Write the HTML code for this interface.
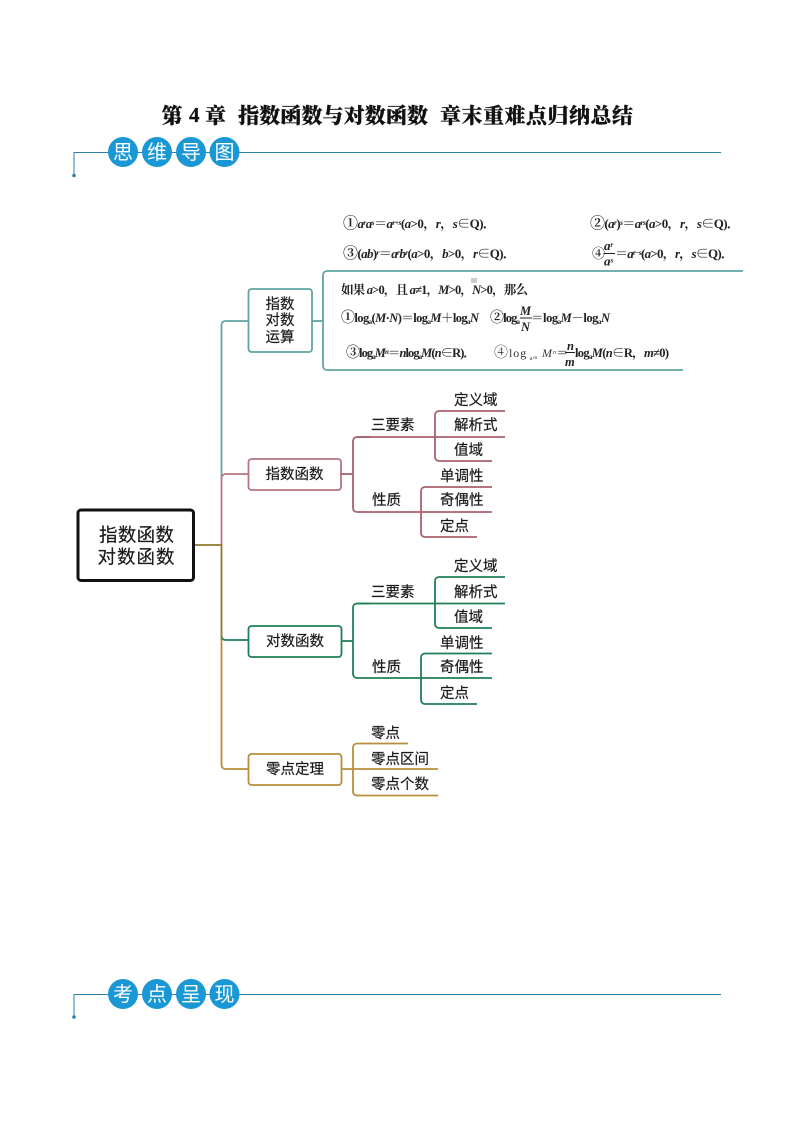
<!DOCTYPE html>
<html lang="zh"><head><meta charset="utf-8"><style>
html,body{margin:0;padding:0;background:#fff}
svg{display:block}
text{font-family:"Liberation Serif","Noto Serif CJK SC",serif}
.s{font-family:"Liberation Sans","Noto Sans CJK SC",sans-serif;fill:#1a1a1a;dominant-baseline:central;stroke:#1a1a1a;stroke-width:.2px}
.l{font-size:14.500px}
.b{font-size:14.500px;text-anchor:middle}
.h{font-family:"Liberation Sans","Noto Sans CJK SC",sans-serif;font-size:20px;fill:#fff;text-anchor:middle;dominant-baseline:central}
.t{font-size:21px;font-weight:900;fill:#111;stroke:#111;stroke-width:.25px}
.f{font-size:13px;font-weight:bold;fill:#222}
.f2{font-size:12.500px;font-weight:bold;fill:#222}
.i{font-style:italic}
.p{fill:none;stroke-width:1.8}
</style></head><body>
<svg width="794" height="1123" viewBox="0 0 794 1123" xmlns="http://www.w3.org/2000/svg">
<rect width="794" height="1123" fill="#fff"/>
<text class="t" x="161.500" y="123">第</text><text class="t" x="189" y="122">4</text><text class="t" x="205" y="123">章</text>
<text class="t" x="238" y="123" textLength="190">指数函数与对数函数</text>
<text class="t" x="440" y="123" textLength="193">章末重难点归纳总结</text>

<!-- header 1 -->
<path d="M74 176V152.500H721" fill="none" stroke="#2b80ad" stroke-width="1"/><circle cx="74" cy="175.500" r="1.800" fill="#2b80ad"/>
<g fill="#1a98d5"><circle cx="123" cy="152" r="15"/><circle cx="157" cy="152" r="15"/><circle cx="191" cy="152" r="15"/><circle cx="224.500" cy="152" r="15"/></g>
<text class="h" x="123" y="153">思</text><text class="h" x="157" y="153">维</text><text class="h" x="191" y="153">导</text><text class="h" x="224.500" y="153">图</text>

<!-- header 2 -->
<path d="M74 1017V994.500H721" fill="none" stroke="#2b80ad" stroke-width="1"/><circle cx="74" cy="1017" r="1.800" fill="#2b80ad"/>
<g fill="#1a98d5"><circle cx="123" cy="994" r="15"/><circle cx="157" cy="994" r="15"/><circle cx="191" cy="994" r="15"/><circle cx="224.500" cy="994" r="15"/></g>
<text class="h" x="123" y="995">考</text><text class="h" x="157" y="995">点</text><text class="h" x="191" y="995">呈</text><text class="h" x="224.500" y="995">现</text>

<!-- trunk -->
<path class="p" stroke="#5fa5a2" d="M221.500 478V325a4 4 0 0 1 4-4H248"/>
<path class="p" stroke="#b5757f" d="M221.500 545V478a4 4 0 0 1 4-4H248"/>
<path class="p" stroke="#1f8055" d="M221.500 636a4 4 0 0 0 4 4H248"/>
<path class="p" stroke="#b98d3c" d="M221.500 640V765a4 4 0 0 0 4 4H248"/>
<path class="p" stroke="#8f7a2c" d="M194 545H221.500V640"/>

<!-- main box -->
<rect x="78" y="510" width="115.500" height="70.500" rx="3" fill="#fff" stroke="#111" stroke-width="3"/>
<text class="s" x="99" y="535" font-size="18.500" textLength="75">指数函数</text>
<text class="s" x="97.500" y="557" font-size="18.500" textLength="77">对数函数</text>

<!-- branch 1 -->
<rect x="248.500" y="289" width="63.500" height="63" rx="3" fill="#fff" stroke="#5fa5a2" stroke-width="1.800"/>
<text class="s b" x="280" y="305">指数</text><text class="s b" x="280" y="321">对数</text><text class="s b" x="280" y="338">运算</text>
<path class="p" stroke="#5fa5a2" d="M312 321H323"/>
<path class="p" stroke="#5fa5a2" d="M743 271H327a4 4 0 0 0-4 4V366a4 4 0 0 0 4 4H683"/>

<!-- formulas -->
<text class="f" x="343" y="228" textLength="153"><tspan font-size="15">①</tspan><tspan class="i">a</tspan><tspan class="i" font-size="7.500" dy="-3">r</tspan><tspan class="i" dy="3">a</tspan><tspan class="i" font-size="7.500" dy="-3">s</tspan><tspan dy="3">＝</tspan><tspan class="i">a</tspan><tspan class="i" font-size="7.500" dy="-3">r+s</tspan><tspan dy="3">(</tspan><tspan class="i">a</tspan>&gt;0，<tspan class="i">r</tspan>，<tspan class="i">s</tspan>∈Q)．</text>
<text class="f" x="590" y="228" textLength="150"><tspan font-size="15">②</tspan>(<tspan class="i">a</tspan><tspan class="i" font-size="7.500" dy="-3">r</tspan><tspan dy="3">)</tspan><tspan class="i" font-size="7.500" dy="-3">s</tspan><tspan dy="3">＝</tspan><tspan class="i">a</tspan><tspan class="i" font-size="7.500" dy="-3">rs</tspan><tspan dy="3">(</tspan><tspan class="i">a</tspan>&gt;0，<tspan class="i">r</tspan>，<tspan class="i">s</tspan>∈Q)．</text>
<text class="f" x="343" y="258" textLength="173"><tspan font-size="15">③</tspan>(<tspan class="i">ab</tspan>)<tspan class="i" font-size="7.500" dy="-3">r</tspan><tspan dy="3">＝</tspan><tspan class="i">a</tspan><tspan class="i" font-size="7.500" dy="-3">r</tspan><tspan class="i" dy="3">b</tspan><tspan class="i" font-size="7.500" dy="-3">r</tspan><tspan dy="3">(</tspan><tspan class="i">a</tspan>&gt;0，<tspan class="i">b</tspan>&gt;0，<tspan class="i">r</tspan>∈Q)．</text>
<text class="f" x="592" y="258" font-size="15">④</text>
<text class="f i" x="604" y="250" font-size="11">a<tspan font-size="7" dy="-3">r</tspan></text>
<path d="M603.500 253.500H615" stroke="#222" stroke-width="1"/>
<text class="f i" x="604" y="265.500" font-size="11">a<tspan font-size="7" dy="-3">s</tspan></text>
<text class="f" x="615" y="258" textLength="119">＝<tspan class="i">a</tspan><tspan class="i" font-size="7.500" dy="-3">r−s</tspan><tspan dy="3">(</tspan><tspan class="i">a</tspan>&gt;0，<tspan class="i">r</tspan>，<tspan class="i">s</tspan>∈Q)．</text>

<rect x="471" y="278" width="6" height="5" fill="#ccc"/>
<text class="f2" x="341" y="294" textLength="187">如果 <tspan class="i">a</tspan>&gt;0，且 <tspan class="i">a</tspan>≠1，<tspan class="i">M</tspan>&gt;0，<tspan class="i">N</tspan>&gt;0，那么</text>
<text class="f2" x="341" y="322" textLength="138"><tspan font-size="14">①</tspan>log<tspan font-size="7" dy="2">a</tspan><tspan dy="-2">(</tspan><tspan class="i">M</tspan>·<tspan class="i">N</tspan>)＝log<tspan font-size="7" dy="2">a</tspan><tspan class="i" dy="-2">M</tspan>＋log<tspan font-size="7" dy="2">a</tspan><tspan class="i" dy="-2">N</tspan></text>
<text class="f2" x="490" y="322" textLength="30"><tspan font-size="14">②</tspan>log<tspan font-size="7" dy="2">a</tspan></text>
<text class="f2 i" x="520" y="315" font-size="13">M</text><path d="M520 318H532" stroke="#222" stroke-width="1"/><text class="f2 i" x="521" y="331" font-size="13">N</text>
<text class="f2" x="531" y="322" textLength="79">＝log<tspan font-size="7" dy="2">a</tspan><tspan class="i" dy="-2">M</tspan>－log<tspan font-size="7" dy="2">a</tspan><tspan class="i" dy="-2">N</tspan></text>
<text class="f2" x="346" y="357" textLength="130"><tspan font-size="14">③</tspan>log<tspan font-size="7" dy="2">a</tspan><tspan class="i" dy="-2">M</tspan><tspan class="i" font-size="7" dy="-3">n</tspan><tspan dy="3">＝</tspan><tspan class="i">n</tspan>log<tspan font-size="7" dy="2">a</tspan><tspan class="i" dy="-2">M</tspan>(<tspan class="i">n</tspan>∈R)．</text>
<text x="494" y="357" font-size="12" fill="#333" textLength="62"><tspan font-size="14">④</tspan>log<tspan font-size="6" dy="3"> a</tspan><tspan font-size="5" dy="-1">m</tspan><tspan class="i" dy="-2"> M</tspan><tspan class="i" font-size="6" dy="-3">n</tspan></text>
<text class="f2" x="556" y="357" textLength="12">＝</text>
<text class="f2 i" x="567" y="350">n</text><path d="M565 352.500H575" stroke="#222" stroke-width="1"/><text class="f2 i" x="565" y="366">m</text>
<text class="f2" x="575" y="357" textLength="94">log<tspan font-size="7" dy="2">a</tspan><tspan class="i" dy="-2">M</tspan>(<tspan class="i">n</tspan>∈R，<tspan class="i">m</tspan>≠0)</text>

<!-- branch 2 -->
<rect x="248.500" y="459" width="92.500" height="31" rx="3" fill="#fff" stroke="#b5757f" stroke-width="1.800"/>
<text class="s b" x="294.500" y="475">指数函数</text>
<g stroke="#a9606c">
<path class="p" d="M341 474H353"/>
<path class="p" d="M370 437H357a4 4 0 0 0-4 4V508a4 4 0 0 0 4 4H492"/>
<path class="p" d="M357 437H505"/>
<path class="p" d="M505 411H439a4 4 0 0 0-4 4V457a4 4 0 0 0 4 4H492"/>
<path class="p" d="M492 487H425a4 4 0 0 0-4 4V533a4 4 0 0 0 4 4H477"/>
</g>
<text class="s l" x="371" y="426">三要素</text><text class="s l" x="372" y="501">性质</text>
<text class="s l" x="454" y="401">定义域</text><text class="s l" x="454" y="426">解析式</text><text class="s l" x="454" y="451">值域</text>
<text class="s l" x="440" y="477">单调性</text><text class="s l" x="440" y="501">奇偶性</text><text class="s l" x="440" y="527">定点</text>

<!-- branch 3 -->
<rect x="248.500" y="626" width="93" height="31" rx="3" fill="#fff" stroke="#1f8055" stroke-width="1.800"/>
<text class="s b" x="295" y="642">对数函数</text>
<g stroke="#1f8055">
<path class="p" d="M341 641H353"/>
<path class="p" d="M370 603.500H357a4 4 0 0 0-4 4V674a4 4 0 0 0 4 4H492"/>
<path class="p" d="M357 603.500H505"/>
<path class="p" d="M505 577H439a4 4 0 0 0-4 4V624a4 4 0 0 0 4 4H492"/>
<path class="p" d="M492 653.500H425a4 4 0 0 0-4 4V700a4 4 0 0 0 4 4H477"/>
</g>
<text class="s l" x="371" y="593">三要素</text><text class="s l" x="372" y="668">性质</text>
<text class="s l" x="454" y="567">定义域</text><text class="s l" x="454" y="593">解析式</text><text class="s l" x="454" y="618">值域</text>
<text class="s l" x="440" y="644">单调性</text><text class="s l" x="440" y="668">奇偶性</text><text class="s l" x="440" y="694">定点</text>

<!-- branch 4 -->
<rect x="248.500" y="754" width="93" height="31" rx="3" fill="#fff" stroke="#b98d3c" stroke-width="1.800"/>
<text class="s b" x="295" y="770">零点定理</text>
<g stroke="#b98d3c">
<path class="p" d="M341 769H438"/>
<path class="p" d="M408 743.500H357a4 4 0 0 0-4 4V791a4 4 0 0 0 4 4.500H438"/>
</g>
<text class="s l" x="371" y="734">零点</text><text class="s l" x="371" y="760">零点区间</text><text class="s l" x="371" y="785">零点个数</text>
</svg>
</body></html>
